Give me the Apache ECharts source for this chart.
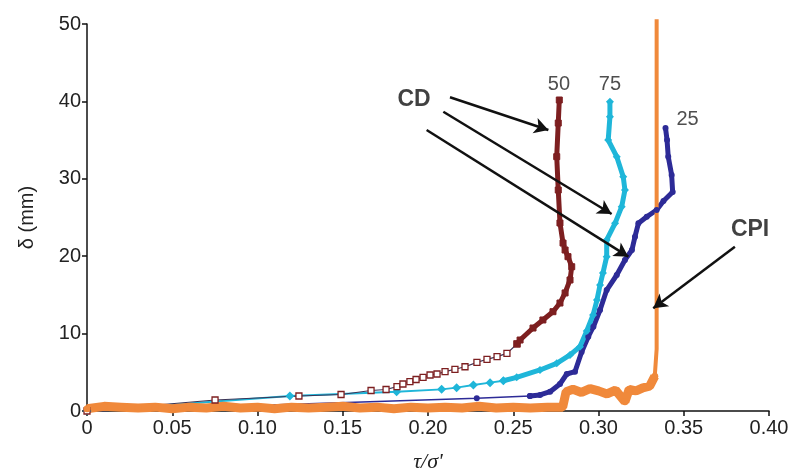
<!DOCTYPE html>
<html>
<head>
<meta charset="utf-8">
<script src="https://cdn.jsdelivr.net/npm/echarts@6/dist/echarts.min.js"></script>
<style>html,body{margin:0;padding:0;background:#fff}#c{width:798px;height:473px}</style>
</head>
<body>
<div id="c"></div>
<script>
// ---- data (τ/σ', δ mm) ----
const xTicks = [0, 0.05, 0.10, 0.15, 0.20, 0.25, 0.30, 0.35, 0.40];
const yTicks = [0, 10, 20, 30, 40, 50];

// CD 50 (dark red, hollow squares)
const cd50Low = [[0,0],[0.0751,1.42],[0.1243,1.94],[0.149,2.13],[0.1666,2.65],[0.1754,2.78],[0.1818,3.14],[0.1853,3.49],[0.1894,3.79],[0.193,4.07],[0.1971,4.35],[0.2012,4.65],[0.2053,4.78],[0.21,5.08],[0.2158,5.39],[0.2217,5.72],[0.2287,6.29],[0.2346,6.68],[0.2405,7.02],[0.2463,7.45],[0.2522,8.66]];
const cd50High = [[0.2522,8.66],[0.254,9.17],[0.2616,10.72],[0.2674,11.76],[0.2733,12.83],[0.2774,13.95],[0.2804,15.25],[0.2833,16.93],[0.2843,18.64],[0.2821,19.94],[0.2804,20.8],[0.2792,21.7],[0.2774,24.29],[0.2764,28.55],[0.2755,32.86],[0.2764,37.2],[0.277,40.18]];

// CD 75 (cyan, diamonds)
const cd75Low = [[0,0],[0.119,1.94],[0.1816,2.49],[0.208,2.8],[0.2168,3.01],[0.2266,3.36],[0.2364,3.66],[0.2442,3.91]];
const cd75High = [[0.2442,3.91],[0.252,4.35],[0.2657,5.3],[0.2755,6.16],[0.2833,7.24],[0.2891,8.31],[0.2931,10.34],[0.2968,12.4],[0.2991,14.34],[0.3009,16.28],[0.3026,17.83],[0.3048,19.94],[0.3048,22.1],[0.3097,24.25],[0.3136,26.4],[0.3155,28.55],[0.3145,30.27],[0.3107,32.86],[0.3057,35.01],[0.3067,38.02],[0.3067,39.96]];

// CD 25 (dark blue, dots)
const cd25Low = [[0,0],[0.2286,1.64],[0.2598,1.94]];
const cd25High = [[0.2598,1.94],[0.2657,2.07],[0.2716,2.49],[0.2774,3.49],[0.2814,4.78],[0.2862,5.08],[0.2901,7.62],[0.294,9.6],[0.297,10.89],[0.3009,13.05],[0.3048,15.63],[0.3107,17.57],[0.3155,19.51],[0.3196,20.8],[0.3214,22.52],[0.3234,24.25],[0.3283,25.1],[0.3341,25.97],[0.3381,27.13],[0.3435,28.29],[0.3429,30.49],[0.3409,32.86],[0.3402,35.01],[0.3393,36.56]];

// CPI (orange)
const cpiLow = [[0,0.3],[0.01,0.6],[0.02,0.5],[0.03,0.4],[0.04,0.5],[0.05,0.3],[0.06,0.5],[0.07,0.4],[0.08,0.6],[0.09,0.4],[0.10,0.5],[0.11,0.3],[0.12,0.5],[0.13,0.4],[0.14,0.5],[0.15,0.6],[0.16,0.4],[0.17,0.5],[0.18,0.3],[0.19,0.5],[0.20,0.4],[0.21,0.5],[0.22,0.4],[0.23,0.6],[0.24,0.4],[0.25,0.5],[0.26,0.4],[0.27,0.5],[0.279,0.5],[0.281,2.5],[0.285,2.8],[0.29,2.4],[0.295,2.9],[0.30,2.6],[0.305,2.2],[0.31,2.7],[0.3155,1.2],[0.318,2.8],[0.322,2.6],[0.326,3.0],[0.33,3.2],[0.333,4.5]];
const cpiHigh = [[0.333,4.5],[0.3341,8],[0.3341,13.3],[0.3341,20],[0.3341,30],[0.3341,40],[0.3341,50.6]];

// annotations
const labelTexts = ['CD', 'CPI', '50', '75', '25'];
const labelPos = [[0.1918,40.18],[0.3889,23.4],[0.2768,42.25],[0.3067,42.25],[0.3522,37.7]];
const labelBold = [true, true, false, false, false];
const arrows = [
  [[0.2129,40.53],[0.2706,36.3]],
  [[0.209,38.67],[0.3077,25.45]],
  [[0.1992,36.3],[0.3175,19.94]],
  [[0.38,21.23],[0.3321,13.27]]
];

const RED = '#7d1f20', CYAN = '#1fb6d9', BLUE = '#2d2b97', ORANGE = '#f0893b';
const FONT = 'Liberation Sans, Arial, sans-serif';

const chart = echarts.init(document.getElementById('c'));
chart.setOption({
  animation: false,
  backgroundColor: '#fff',
  grid: { left: 87, right: 29, top: 24, bottom: 62, containLabel: false, outerBoundsMode: 'none' },
  xAxis: {
    type: 'value', min: 0, max: 0.4, interval: 0.05,
    axisLine: { show: true, lineStyle: { color: '#111', width: 1.5 } },
    axisTick: { show: true, length: 5, lineStyle: { color: '#111', width: 1.5 } },
    splitLine: { show: false },
    axisLabel: { fontSize: 20, color: '#222', fontFamily: FONT, margin: 7,
      formatter: v => { const t = xTicks.find(k => Math.abs(k - v) < 1e-9); return t === 0 ? '0' : (t !== undefined ? t.toFixed(2) : ''); } },
    name: "τ/σ'", nameLocation: 'middle', nameGap: 40,
    nameTextStyle: { fontSize: 22, fontStyle: 'italic', fontFamily: 'Liberation Serif, Times New Roman, serif', color: '#222' }
  },
  yAxis: {
    type: 'value', min: 0, max: 50, interval: 10,
    axisLine: { show: true, lineStyle: { color: '#111', width: 1.5 } },
    axisTick: { show: true, length: 5, lineStyle: { color: '#111', width: 1.5 } },
    splitLine: { show: false },
    axisLabel: { fontSize: 20, color: '#222', fontFamily: FONT, margin: 6,
      formatter: v => yTicks.includes(v) ? String(v) : '' },
    name: 'δ (mm)', nameLocation: 'middle', nameGap: 50, nameRotate: 90,
    nameTextStyle: { fontSize: 20, fontFamily: FONT, color: '#222' }
  },
  series: [
    { name: 'CD 25 low', type: 'line', data: cd25Low, symbol: 'circle', symbolSize: 6,
      lineStyle: { color: BLUE, width: 1.5 }, itemStyle: { color: BLUE } },
    { name: 'CD 25', type: 'line', data: cd25High, symbol: 'circle', symbolSize: 6,
      lineStyle: { color: BLUE, width: 5 }, itemStyle: { color: BLUE } },
    { name: 'CD 75 low', type: 'line', data: cd75Low, symbol: 'diamond', symbolSize: 9,
      lineStyle: { color: CYAN, width: 1.8 }, itemStyle: { color: CYAN } },
    { name: 'CD 75', type: 'line', data: cd75High, symbol: 'diamond', symbolSize: 8,
      lineStyle: { color: CYAN, width: 5 }, itemStyle: { color: CYAN } },
    { name: 'CD 50 low', type: 'line', data: cd50Low, symbol: 'rect', symbolSize: 6,
      lineStyle: { color: '#3b3355', width: 1.2 }, itemStyle: { color: '#fff', borderColor: RED, borderWidth: 1.3 } },
    { name: 'CD 50', type: 'line', data: cd50High, symbol: 'rect', symbolSize: 6,
      lineStyle: { color: RED, width: 5 }, itemStyle: { color: RED, borderColor: RED, borderWidth: 1 } },
    { name: 'CPI low', type: 'line', data: cpiLow, symbol: 'circle', symbolSize: 7, clip: false,
      lineStyle: { color: ORANGE, width: 9 }, itemStyle: { color: ORANGE } },
    { name: 'CPI', type: 'line', data: cpiHigh, symbol: 'none', clip: false,
      lineStyle: { color: ORANGE, width: 4 } },
    { name: 'annotations', type: 'scatter', symbolSize: 0, silent: true,
      data: labelPos.map((p, i) => ({ value: p, label: { show: true, position: 'inside', formatter: labelTexts[i],
        fontSize: labelBold[i] ? 23 : 20, fontWeight: labelBold[i] ? 'bold' : 'normal', color: labelBold[i] ? '#111' : '#222', fontFamily: FONT } })),
      markLine: { silent: true, symbol: ['none', 'arrow'], symbolSize: [12, 14], animation: false,
        label: { show: false }, lineStyle: { color: '#111', width: 2.5, type: 'solid' },
        data: arrows.map(a => [{ coord: a[0] }, { coord: a[1] }]) } }
  ]
});
</script>
</body>
</html>
